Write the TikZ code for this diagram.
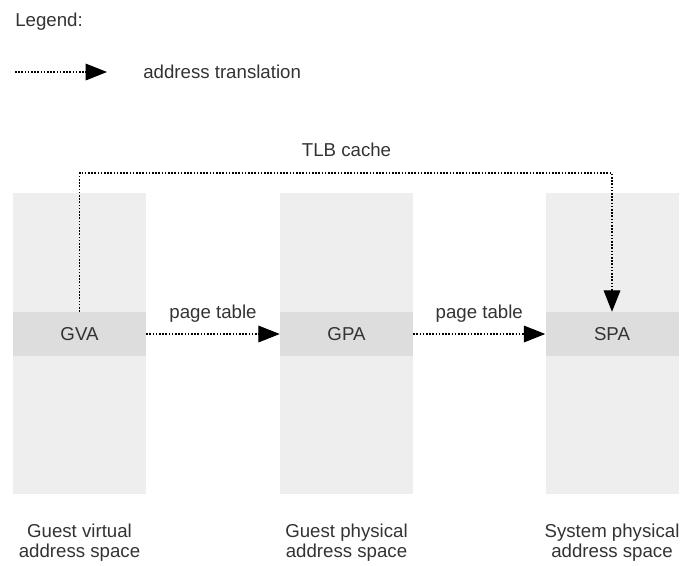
\documentclass[tikz,border=0pt]{standalone}
\usepackage{fontspec}
\setmainfont{Liberation Sans}
\usepackage{xcolor}
\usetikzlibrary{arrows.meta}
\definecolor{ink}{HTML}{333333}
\definecolor{spacefill}{HTML}{EEEEEE}
\definecolor{bandfill}{HTML}{DDDDDD}
\tikzset{
  space/.style={fill=spacefill, draw=none, minimum width=99.75pt, minimum height=225.75pt, inner sep=0pt},
  band/.style={fill=bandfill, draw=none, minimum width=99.75pt, minimum height=33pt, inner sep=0pt, text=ink, font=\fontsize{14}{15}\selectfont},
  trans/.style={draw=black, line width=0.8pt, dash pattern=on 1.2pt off 1.2pt, -{Triangle[length=16pt, width=12.5pt]}},
  lbl/.style={text=ink, font=\fontsize{14}{15}\selectfont, inner sep=0pt},
  caption/.style={lbl, align=center}
}

\begin{document}
\begin{tikzpicture}[x=0.75pt, y=-0.75pt]
  \useasboundingbox (0,0) rectangle (684,565);

  % legend
  \node[lbl, anchor=west] (legend) at (15,22) {Legend:};
  \coordinate (legs) at (15,72);
  \coordinate (lege) at (107,72);
  \draw[trans] (legs) -- (lege);
  \node[lbl, anchor=west] (legtext) at (143,72) {address translation};

  % address spaces
  \node[space] (gvs) at (79.5,343.5) {};
  \node[space] (gps) at (346.5,343.5) {};
  \node[space] (sps) at (612,343.5) {};

  \node[band] (gva) at (79.5,334) {GVA};
  \node[band] (gpa) at (346.5,334) {GPA};
  \node[band] (spa) at (612,334) {SPA};

  % translations
  \draw[trans] (gva.east) -- (gpa.west) node[lbl, midway, above=8pt] (pt1) {page table};
  \draw[trans] (gpa.east) -- (spa.west) node[lbl, midway, above=8pt] (pt2) {page table};

  \coordinate (tlbl) at (79.5,173);
  \coordinate (tlbr) at (612,173);
  \draw[trans] (gva.north) -- (tlbl) -- (tlbr) -- (spa.north);
  \node[lbl] (tlb) at (346.5,150) {TLB cache};

  % captions
  \node[caption] (gvcap) at (79.5,543) {Guest virtual\\address space};
  \node[caption] (gpcap) at (346.5,543) {Guest physical\\address space};
  \node[caption] (spcap) at (612,543) {System physical\\address space};
\end{tikzpicture}
\end{document}
